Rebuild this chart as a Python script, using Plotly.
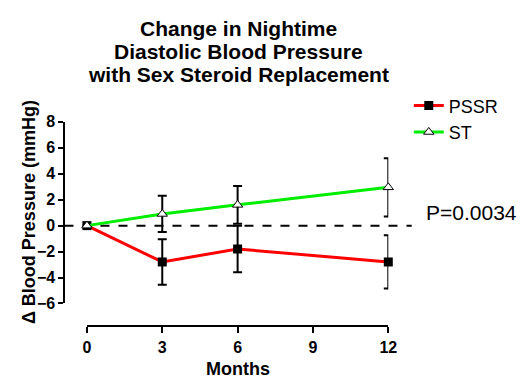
import plotly.graph_objects as go

months = [0, 3, 6, 12]
pssr = [0.0, -2.8, -1.8, -2.8]
pssr_err = [0.0, 1.75, 1.8, 2.05]
st = [0.0, 0.9, 1.6, 2.95]
st_err = [0.0, 1.4, 1.45, 2.25]
x_ticks = [0, 3, 6, 9, 12]
y_ticks = [-6, -4, -2, 0, 2, 4, 6, 8]
title_lines = ["Change in Nightime", "Diastolic Blood Pressure", "with Sex Steroid Replacement"]

W, H = 528, 389
FONT = "Liberation Sans, Arial, sans-serif"

fig = go.Figure()
fig.add_trace(go.Scatter(
    x=months, y=pssr, name="PSSR", mode="lines+markers", legendgroup="a",
    line=dict(color="#ff0000", width=3),
    marker=dict(symbol="square", size=9, color="black"),
    error_y=dict(type="data", array=pssr_err, color="black", thickness=2, width=4.5),
    cliponaxis=False,
))
fig.add_trace(go.Scatter(
    x=months, y=st, name="ST", mode="lines+markers", legendgroup="b",
    line=dict(color="#00ee00", width=3),
    marker=dict(symbol="triangle-up", size=9, color="white", line=dict(color="black", width=1)),
    error_y=dict(type="data", array=st_err, color="black", thickness=2, width=4.5),
    cliponaxis=False,
))

fig.add_shape(type="line", xref="paper", yref="y", x0=62 / W, x1=418 / W, y0=0, y1=0,
              line=dict(color="black", width=2, dash="dash"), layer="below")

annotations = []
for i, (line, yc) in enumerate(zip(title_lines, [21, 46, 70])):
    annotations.append(dict(text="<b>" + line + "</b>", x=240 / W, y=1 - yc / H,
                            xref="paper", yref="paper", xanchor="center", yanchor="middle",
                            showarrow=False, font=dict(size=21, family=FONT)))
annotations += [
    dict(text="<b>Δ Blood Pressure (mmHg)</b>", textangle=-90,
         x=25 / W, y=1 - 213 / H, xref="paper", yref="paper", xanchor="center", yanchor="middle",
         showarrow=False, font=dict(size=18, family=FONT)),
    dict(text="<b>Months</b>", x=240 / W, y=1 - 377 / H, xref="paper", yref="paper",
         xanchor="center", yanchor="middle", showarrow=False, font=dict(size=18, family=FONT)),
    dict(text="P=0.0034", x=431 / W, y=1 - 214 / H, xref="paper", yref="paper",
         xanchor="left", yanchor="middle", showarrow=False, font=dict(size=21, family=FONT)),
]

fig.update_layout(
    width=W, height=H, margin=dict(l=0, r=0, t=0, b=0),
    paper_bgcolor="white", plot_bgcolor="white",
    font=dict(family=FONT, color="black"),
    showlegend=True,
    legend=dict(x=415 / W, y=1 - 83 / H, xanchor="left", yanchor="top",
                font=dict(size=18, family=FONT), bgcolor="rgba(0,0,0,0)",
                itemwidth=30, tracegroupgap=0),
    xaxis=dict(domain=[85 / W, 394 / W], range=[0, 12], anchor="free", position=1 - 333 / H,
               tickvals=x_ticks, ticks="outside", ticklen=6, tickwidth=2, tickcolor="black",
               showline=True, linewidth=2, linecolor="black", showgrid=False, zeroline=False,
               tickfont=dict(size=16, family=FONT, weight="bold")),
    yaxis=dict(domain=[1 - 309 / H, 1 - 119 / H], range=[-6, 8], anchor="free", position=62 / W,
               tickvals=y_ticks, ticks="outside", ticklen=5, tickwidth=2, tickcolor="black",
               showline=True, linewidth=2, linecolor="black", showgrid=False, zeroline=False,
               tickfont=dict(size=16, family=FONT, weight="bold")),
    annotations=annotations,
)

fig.write_html("out.html")
